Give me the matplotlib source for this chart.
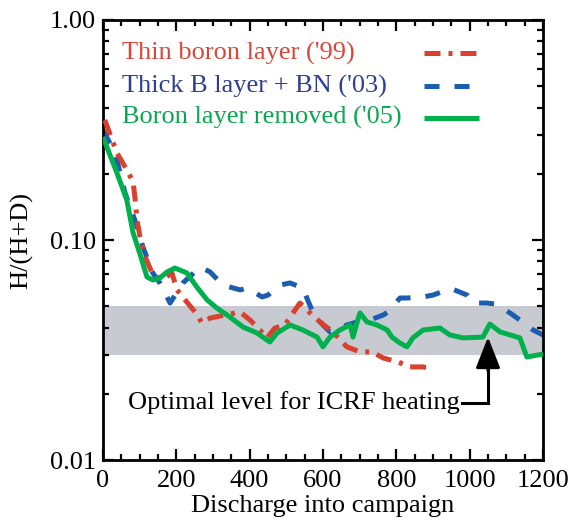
import matplotlib
matplotlib.use("Agg")
import matplotlib.pyplot as plt
from matplotlib.ticker import FixedLocator, LogLocator, MultipleLocator, FuncFormatter

plt.rcParams['font.family'] = ['Liberation Serif', 'DejaVu Serif']

# '99 campaign: thin boron layer
x_thin = [5, 38, 68, 82, 87, 93, 101, 115, 134, 161, 188, 202, 224, 251, 270, 292,
          333, 374, 401, 428, 447, 469, 496, 524, 537, 565, 592, 627, 665, 701,
          734, 764, 805, 837, 870, 897]
y_thin = [0.351, 0.249, 0.204, 0.184, 0.157, 0.123, 0.103, 0.0837, 0.0708, 0.0658,
          0.0708, 0.0593, 0.0534, 0.0471, 0.042, 0.0442, 0.0456, 0.0471, 0.0433,
          0.039, 0.0359, 0.0398, 0.0411, 0.0481, 0.0517, 0.0466, 0.0424, 0.0382,
          0.0327, 0.031, 0.031, 0.0291, 0.0279, 0.0265, 0.0265, 0.0262]

# '03 campaign: thick B layer + BN
x_thick = [0, 33, 60, 87, 109, 136, 155, 183, 218, 265, 292, 327, 374, 393, 434,
           450, 483, 510, 545, 556, 573, 592, 619, 638, 665, 693, 728, 764, 777,
           810, 829, 873, 900, 938, 952, 993, 1009, 1047, 1069, 1110, 1137, 1173, 1200]
y_thick = [0.316, 0.249, 0.164, 0.123, 0.0929, 0.0708, 0.0638, 0.0517, 0.0638,
           0.0754, 0.0716, 0.0624, 0.0593, 0.0605, 0.0551, 0.0562, 0.0624, 0.0638,
           0.0605, 0.0545, 0.0466, 0.0424, 0.0382, 0.039, 0.0411, 0.0424, 0.0433,
           0.0456, 0.0471, 0.0545, 0.0545, 0.0551, 0.0562, 0.0593, 0.0599, 0.0562,
           0.0517, 0.0517, 0.0512, 0.0466, 0.0433, 0.039, 0.037]

# '05 campaign: boron layer removed
x_removed = [0, 38, 65, 82, 100, 120, 136, 155, 175, 196, 229, 256, 284, 311, 346,
             382, 420, 455, 475, 510, 545, 584, 600, 619, 646, 674, 682, 693, 701,
             720, 747, 775, 788, 810, 829, 845, 873, 919, 946, 982, 1036, 1055,
             1083, 1137, 1156, 1200]
y_removed = [0.294, 0.202, 0.152, 0.108, 0.0873, 0.0679, 0.0658, 0.0672, 0.0716,
             0.0746, 0.0708, 0.0611, 0.0534, 0.049, 0.0447, 0.0402, 0.0378, 0.0344,
             0.0378, 0.0411, 0.039, 0.0362, 0.0327, 0.0362, 0.039, 0.0411, 0.0362,
             0.0424, 0.0466, 0.0424, 0.0411, 0.039, 0.0362, 0.034, 0.0327, 0.0359,
             0.039, 0.0398, 0.037, 0.0359, 0.0362, 0.0415, 0.0382, 0.0359, 0.0294,
             0.0303]

band_lo, band_hi = 0.03, 0.05
labels = ["Thin boron layer ('99)", "Thick B layer + BN ('03)", "Boron layer removed ('05)"]
text_colors = ['#d8473a', '#2e3d96', '#0aa84f']
line_colors = ['#d9402e', '#1c5db0', '#00b04c']

fig = plt.figure(figsize=(5.74, 5.29), dpi=100)
ax = fig.add_axes([0.1794, 0.1304, 0.7666, 0.8318])

ax.axhspan(band_lo, band_hi, color='#c8cad1', lw=0, zorder=0)

lw = 3.6
red_style = dict(color=line_colors[0], lw=lw, dashes=(3.2, 1.6, 0.8, 1.6), dash_capstyle='butt')
blue_style = dict(color=line_colors[1], lw=lw, dashes=(3.0, 3.0), dash_capstyle='butt')
green_style = dict(color=line_colors[2], lw=lw, solid_capstyle='butt')

ax.plot(x_thin, y_thin, zorder=3, **red_style)
ax.plot(x_thick, y_thick, zorder=2, **blue_style)
ax.plot(x_removed, y_removed, zorder=4, **green_style)

# hand-drawn legend
leg_y = [0.708, 0.501, 0.359]
for lab, col, yy, st in zip(labels, text_colors, leg_y, [red_style, blue_style, green_style]):
    ax.text(52, yy, lab, color=col, fontsize=19, va='center', ha='left')
    ax.plot([875, 1025], [yy, yy], **st)

# annotation for the optimal band
ax.text(974, 0.0182, "Optimal level for ICRF heating", fontsize=19,
        ha='right', va='center')
ax.plot([978, 1050, 1050], [0.0182, 0.0182, 0.026], color='black', lw=2.2,
        solid_joinstyle='miter')
ax.annotate('', xy=(1050, 0.0362), xytext=(1050, 0.0255),
            arrowprops=dict(arrowstyle='-|>,head_length=1.9,head_width=0.75',
                            color='black', lw=2.2, shrinkA=0, shrinkB=0))

ax.set_yscale('log')
ax.set_xlim(0, 1200)
ax.set_ylim(0.01, 1.0)
ax.xaxis.set_major_locator(MultipleLocator(200))
ax.xaxis.set_minor_locator(MultipleLocator(50))
ax.yaxis.set_major_locator(FixedLocator([0.01, 0.1, 1.0]))
ax.yaxis.set_minor_locator(LogLocator(base=10, subs=range(2, 10)))
ax.yaxis.set_major_formatter(FuncFormatter(lambda v, p: '%.2f' % v))
ax.yaxis.set_minor_formatter(FuncFormatter(lambda v, p: ''))

ax.tick_params(which='both', direction='in', top=True, right=True, width=1.6,
               labelsize=19, colors='black')
ax.tick_params(which='major', length=8)
ax.tick_params(axis='x', which='major', pad=7)
ax.tick_params(axis='y', which='major', pad=5)
ax.tick_params(which='minor', length=4.5)
for s in ax.spines.values():
    s.set_linewidth(2.0)

ax.set_xlabel('Discharge into campaign', fontsize=19, labelpad=2)
ax.set_ylabel('H/(H+D)', fontsize=19, labelpad=12)

fig.savefig('out.png', dpi=100)
